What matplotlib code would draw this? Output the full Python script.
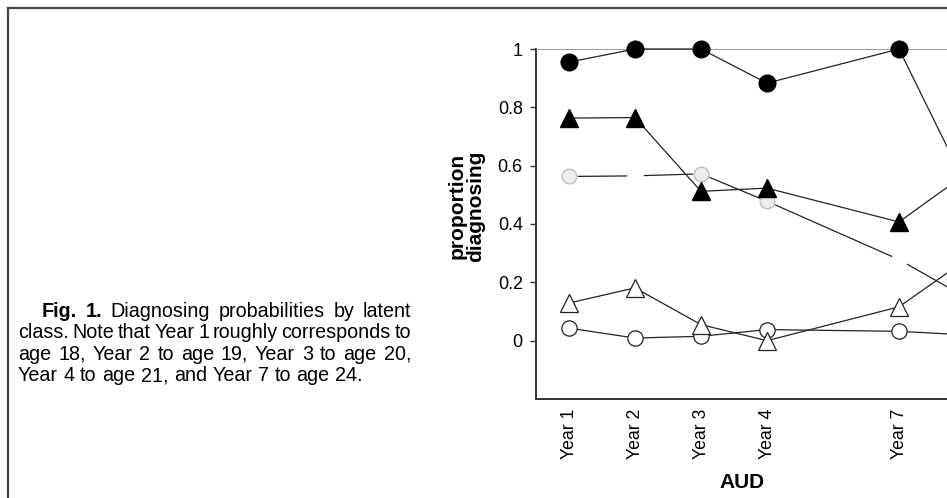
import matplotlib

matplotlib.use("Agg")

import matplotlib.pyplot as plt  # noqa: E402
import numpy as np  # noqa: E402
from matplotlib.lines import Line2D  # noqa: E402

plt.rcParams["font.family"] = ["Liberation Sans", "DejaVu Sans"]

# data (last point is cut off by the crop)
year_labels = ["Year 1", "Year 2", "Year 3", "Year 4", "Year 7"]
filled_circle = [0.955, 1.0, 1.0, 0.883, 1.0, 0.54]
filled_triangle = [0.763, 0.765, 0.512, 0.523, 0.407, 0.57]
gray_circle = [0.563, 0.565, 0.572, 0.478, 0.278, 0.15]
open_triangle = [0.129, 0.181, 0.055, 0.0, 0.116, 0.275]
open_circle = [0.043, 0.009, 0.015, 0.038, 0.032, 0.02]
y_ticks = [0, 0.2, 0.4, 0.6, 0.8, 1]
y_ticklabels = ["0", "0.2", "0.4", "0.6", "0.8", "1"]

caption_lines = [
    [("Fig.", "bold"), ("1.", "bold"), ("Diagnosing", "normal"),
     ("probabilities", "normal"), ("by", "normal"), ("latent", "normal")],
    [(w, "normal") for w in "class. Note that Year 1 roughly corresponds to".split()],
    [(w, "normal") for w in "age 18, Year 2 to age 19, Year 3 to age 20,".split()],
    [(w, "normal") for w in "Year 4 to age 21, and Year 7 to age 24.".split()],
]

W, H = 947, 498
fig = plt.figure(figsize=(W / 100, H / 100), dpi=100)
fig.patch.set_facecolor("white")


def px(x, y):
    return x / W, 1 - y / H


# page frame (left and top edges of the scanned page)
fig.add_artist(Line2D([8 / W, 8 / W], [1 - 8 / H, 0], transform=fig.transFigure,
                      color="#444444", lw=1.6))
fig.add_artist(Line2D([8 / W, 1], [1 - 8 / H, 1 - 8 / H], transform=fig.transFigure,
                      color="#444444", lw=1.6))

# caption, justified word by word
renderer = fig.canvas.get_renderer()
cap_size = 14.2
left_x, right_x = 18, 411
baselines = [317, 338, 359.5, 381]
probe_a = fig.text(0, 0, "x x", fontsize=cap_size)
probe_b = fig.text(0, 0, "xx", fontsize=cap_size)
space_w = probe_a.get_window_extent(renderer).width - probe_b.get_window_extent(renderer).width
probe_a.remove()
probe_b.remove()
for i, words in enumerate(caption_lines):
    start = 42 if i == 0 else left_x
    texts = [fig.text(0, 0, w, fontsize=cap_size, fontweight=wt, va="baseline")
             for w, wt in words]
    widths = [t.get_window_extent(renderer).width for t in texts]
    if i == len(caption_lines) - 1:
        gap = space_w
    else:
        gap = (right_x - start - sum(widths)) / (len(words) - 1)
    x = start
    for t, w in zip(texts, widths):
        t.set_position(px(x, baselines[i]))
        x += w + gap

# chart axes: slots are 66 px wide, the plot runs off the right edge
slot = 66
x0_px, top_px, bot_px = 536, 49, 399
n_slots = 8
ax = fig.add_axes([x0_px / W, 1 - bot_px / H, n_slots * slot / W, (bot_px - top_px) / H])
ax.set_xlim(0.5, 0.5 + n_slots)
ax.set_ylim(-0.2, 1.0)

pos = np.array([1, 2, 3, 4, 6, 7])
line_kw = dict(color="#222222", lw=0.9, clip_on=False)
ax.plot(pos, open_circle, marker="o", ms=11, mfc="white", mec="#222222", mew=0.9,
        zorder=3, **line_kw)
ax.plot(pos, open_triangle, marker="^", ms=12.5, mfc="white", mec="#222222", mew=0.9,
        zorder=4, **line_kw)
# the stippled grey markers barely survive the scan at Year 2 and Year 7
ax.plot(pos, gray_circle, marker="o", ms=11, mfc="white", mec="white", mew=1.0,
        zorder=5, **line_kw)
shown = [0, 2, 3]
ax.scatter(pos[shown], np.asarray(gray_circle)[shown], s=110, facecolor="#ececec",
           edgecolor="#bdbdbd", linewidth=1.0, zorder=5.5, clip_on=False)
ax.plot(pos, filled_triangle, marker="^", ms=12.5, mfc="black", mec="black",
        zorder=6, **line_kw)
ax.plot(pos, filled_circle, marker="o", ms=12, mfc="black", mec="black",
        zorder=7, **line_kw)

ax.spines["right"].set_visible(False)
ax.spines["left"].set_color("#333333")
ax.spines["left"].set_linewidth(1.4)
ax.spines["bottom"].set_color("#333333")
ax.spines["bottom"].set_linewidth(1.4)
ax.spines["top"].set_color("#a0a0a0")
ax.spines["top"].set_linewidth(0.8)

ax.set_yticks(y_ticks)
ax.set_yticklabels(y_ticklabels, fontsize=13)
ax.tick_params(axis="y", length=4.5, width=1, color="#333333", pad=5)
ax.set_xticks(pos[:len(year_labels)])
ax.set_xticklabels(year_labels, rotation=90, fontsize=12.7)
ax.tick_params(axis="x", length=0, pad=7)

fig.text(*px(466, 206), "proportion\ndiagnosing", rotation=90, ha="center", va="center",
         multialignment="center", fontsize=15, fontweight="bold", linespacing=0.95)
fig.text(*px(742, 482), "AUD", ha="center", va="center", fontsize=15, fontweight="bold")

fig.savefig("out.png", dpi=100)
